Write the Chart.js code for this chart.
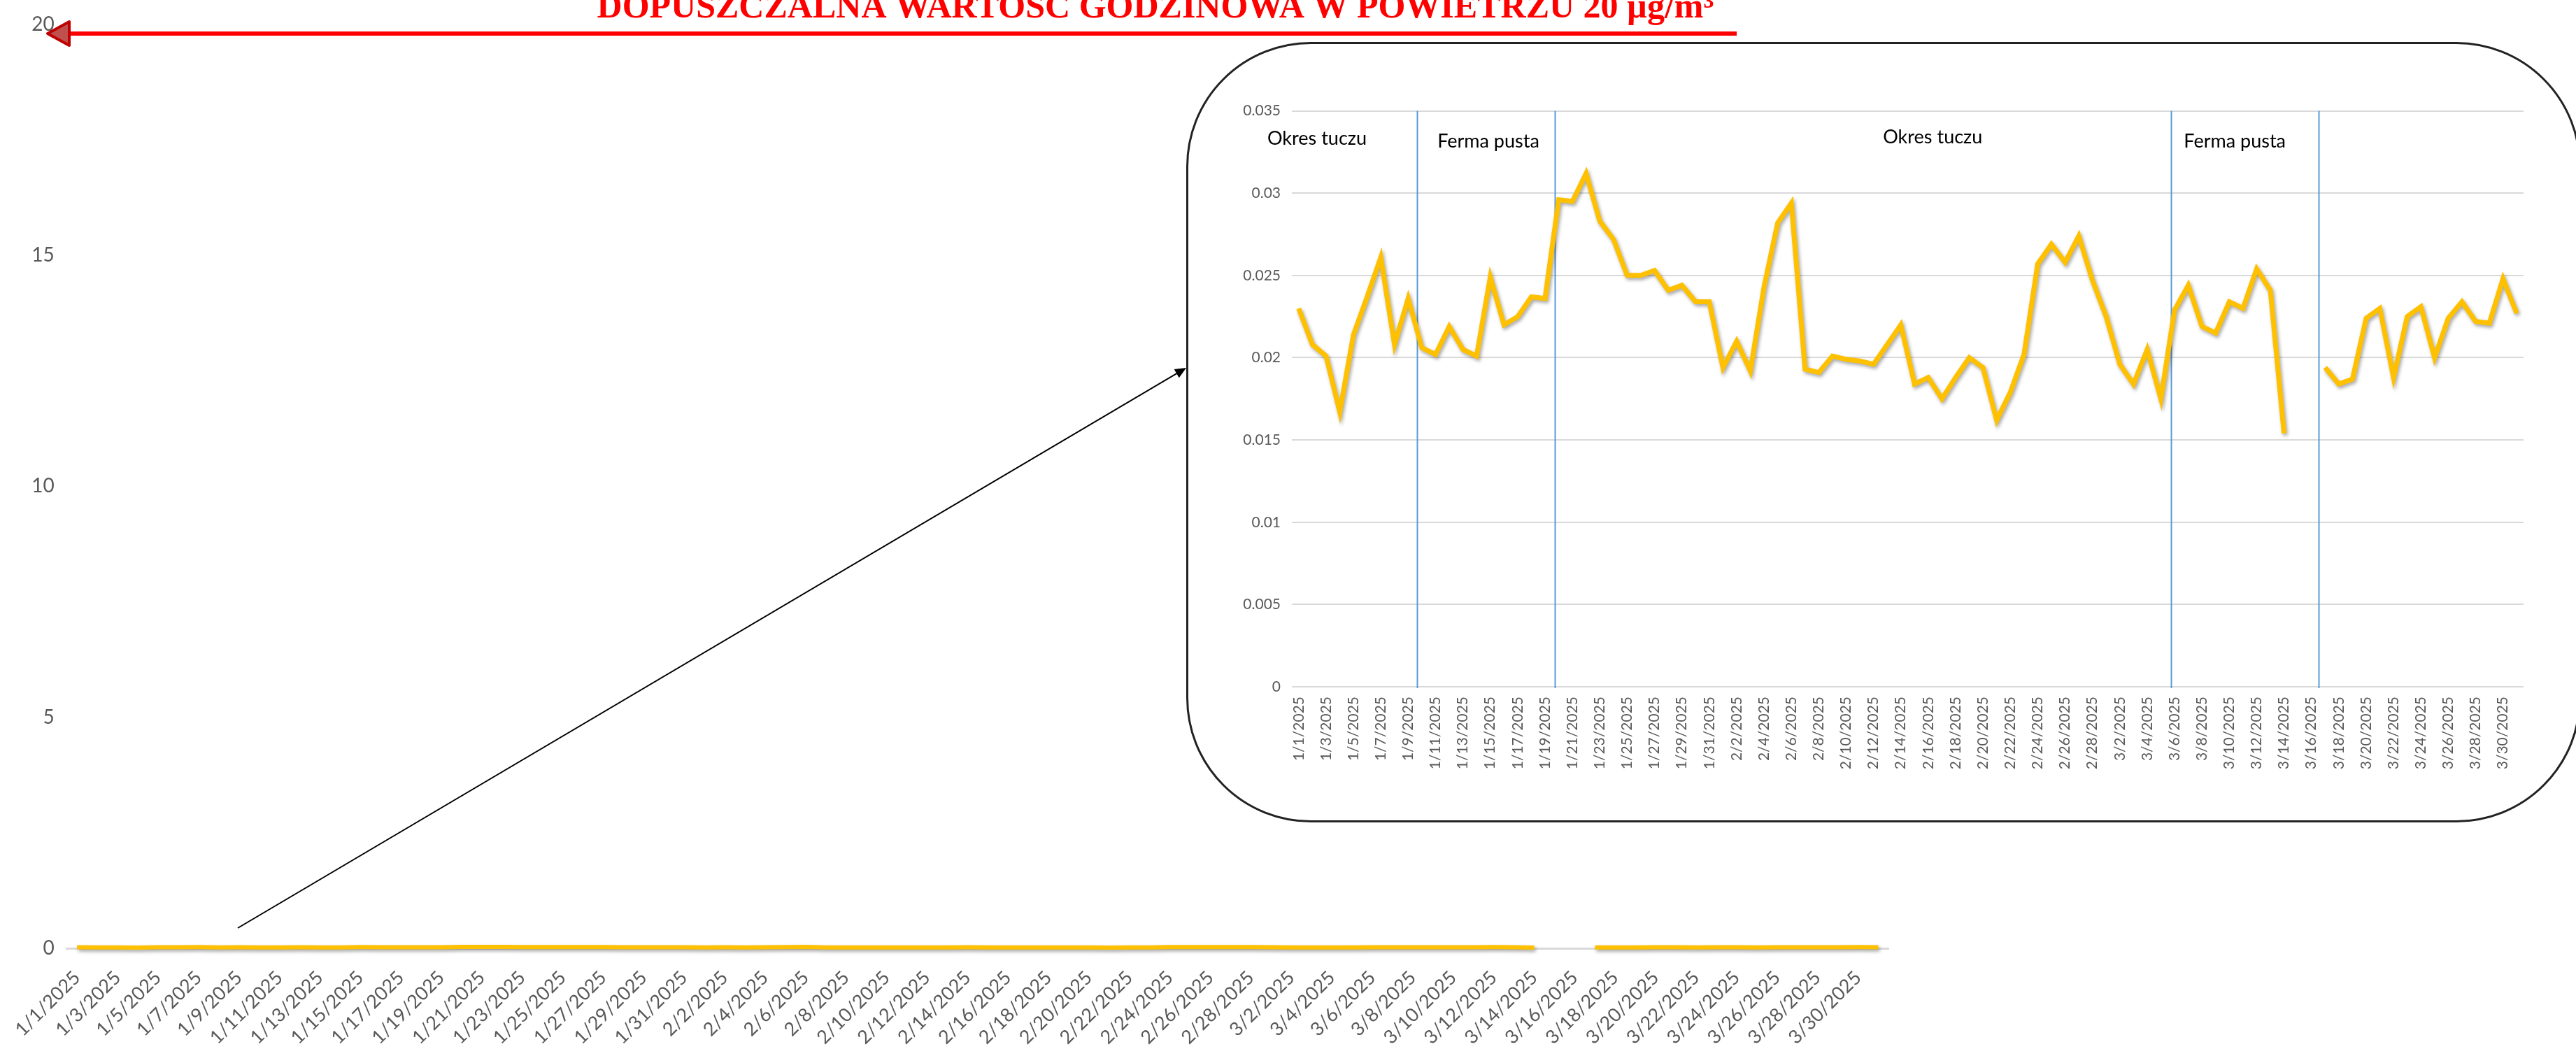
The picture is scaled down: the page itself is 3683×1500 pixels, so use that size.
<!DOCTYPE html>
<html>
<head>
<meta charset="utf-8">
<script src="https://cdn.jsdelivr.net/npm/chart.js@4.4.1/dist/chart.umd.min.js"></script>
<style>
	html, body { margin: 0; padding: 0; background: #fff; overflow: hidden; }
	#wrap { position: relative; width: 3683px; height: 1500px; }
	#mainChart { position: absolute; left: 0; top: 0; }
	#frame { position: absolute; left: 1696px; top: 60px; width: 1994px; height: 1116px;
		border: 3px solid #222; border-radius: 178px; box-sizing: border-box; }
	#insetChart { position: absolute; left: 1710px; top: 130px; }
</style>
</head>
<body>
<div id="wrap">
	<canvas id="mainChart" width="3683" height="1500"></canvas>
	<div id="frame"></div>
	<canvas id="insetChart" width="1930" height="1000"></canvas>
</div>
<script>
// days of the measurement period
const categories = [
	'1/1/2025', '1/2/2025', '1/3/2025', '1/4/2025', '1/5/2025', '1/6/2025', '1/7/2025', '1/8/2025', '1/9/2025', '1/10/2025',
	'1/11/2025', '1/12/2025', '1/13/2025', '1/14/2025', '1/15/2025', '1/16/2025', '1/17/2025', '1/18/2025', '1/19/2025', '1/20/2025',
	'1/21/2025', '1/22/2025', '1/23/2025', '1/24/2025', '1/25/2025', '1/26/2025', '1/27/2025', '1/28/2025', '1/29/2025', '1/30/2025',
	'1/31/2025', '2/1/2025', '2/2/2025', '2/3/2025', '2/4/2025', '2/5/2025', '2/6/2025', '2/7/2025', '2/8/2025', '2/9/2025',
	'2/10/2025', '2/11/2025', '2/12/2025', '2/13/2025', '2/14/2025', '2/15/2025', '2/16/2025', '2/17/2025', '2/18/2025', '2/19/2025',
	'2/20/2025', '2/21/2025', '2/22/2025', '2/23/2025', '2/24/2025', '2/25/2025', '2/26/2025', '2/27/2025', '2/28/2025', '3/1/2025',
	'3/2/2025', '3/3/2025', '3/4/2025', '3/5/2025', '3/6/2025', '3/7/2025', '3/8/2025', '3/9/2025', '3/10/2025', '3/11/2025',
	'3/12/2025', '3/13/2025', '3/14/2025', '3/15/2025', '3/16/2025', '3/17/2025', '3/18/2025', '3/19/2025', '3/20/2025', '3/21/2025',
	'3/22/2025', '3/23/2025', '3/24/2025', '3/25/2025', '3/26/2025', '3/27/2025', '3/28/2025', '3/29/2025', '3/30/2025', '3/31/2025'
];

// daily values (µg/m³)
const hourlyValues = [
	0.0230, 0.0208, 0.0201, 0.0167, 0.0214, 0.0237, 0.0261, 0.0208, 0.0236, 0.0206,
	0.0202, 0.0219, 0.0205, 0.0201, 0.0249, 0.0220, 0.0225, 0.0237, 0.0236, 0.0296,
	0.0295, 0.0312, 0.0283, 0.0272, 0.0250, 0.0250, 0.0253, 0.0241, 0.0244, 0.0234,
	0.0234, 0.0194, 0.0210, 0.0192, 0.0243, 0.0282, 0.0294, 0.0193, 0.0191, 0.0201,
	0.0199, 0.0198, 0.0196, 0.0208, 0.0220, 0.0184, 0.0188, 0.0175, 0.0188, 0.0200,
	0.0194, 0.0162, 0.0179, 0.0202, 0.0257, 0.0269, 0.0258, 0.0274, 0.0247, 0.0225,
	0.0196, 0.0184, 0.0205, 0.0175, 0.0229, 0.0244, 0.0219, 0.0215, 0.0234, 0.0230,
	0.0254, 0.0241, 0.0154, null, null, 0.0194, 0.0184, 0.0187, 0.0224, 0.0230,
	0.0188, 0.0225, 0.0231, 0.0200, 0.0224, 0.0234, 0.0222, 0.0221, 0.0248, 0.0227
];

// tick labels
const mainTicks = [0, 5, 10, 15, 20];
const insetTicks = [0, 0.005, 0.01, 0.015, 0.02, 0.025, 0.03, 0.035];

// periods marked in the inset
const periodNames = ['Okres tuczu', 'Ferma pusta', 'Okres tuczu', 'Ferma pusta'];
const limitTitle = 'DOPUSZCZALNA WARTOŚĆ GODZINOWA W POWIETRZU 20 µg/m³';

// where the period names and divider lines sit (category index along x)
const periodNameAt = [1.34, 13.86, 46.33, 68.4];
const periodNameY = [0.0333, 0.03315, 0.0334, 0.03315];
const dividerAt = [8.67, 18.74, 63.73, 74.5];

const axisGrey = '#595959';
const lineColor = '#FFC000';

// soft shadow under the lines, like the spreadsheet
const lineShadow = {
	id: 'lineShadow',
	beforeDatasetsDraw(chart) {
		const ctx = chart.ctx;
		ctx.save();
		ctx.shadowColor = 'rgba(0, 0, 0, 0.35)';
		ctx.shadowBlur = 5;
		ctx.shadowOffsetX = 2;
		ctx.shadowOffsetY = 3;
	},
	afterDatasetsDraw(chart) {
		chart.ctx.restore();
	}
};

// title, red limit line and the pointer arrow to the inset
const mainDecor = {
	id: 'mainDecor',
	afterDraw(chart) {
		const ctx = chart.ctx;
		const y = chart.scales.y;
		ctx.save();

		// title
		let size = 50;
		ctx.font = 'bold ' + size + 'px "Liberation Serif"';
		size = size * 1597 / ctx.measureText(limitTitle).width;
		ctx.font = 'bold ' + size + 'px "Liberation Serif"';
		ctx.fillStyle = '#FF0000';
		ctx.textAlign = 'center';
		ctx.textBaseline = 'alphabetic';
		ctx.fillText(limitTitle, 1652, 25);

		// limit line
		const ly = y.getPixelForValue(19.8);
		ctx.strokeStyle = '#FF0000';
		ctx.lineWidth = 6;
		ctx.beginPath();
		ctx.moveTo(98, ly);
		ctx.lineTo(2483, ly);
		ctx.stroke();

		ctx.beginPath();
		ctx.moveTo(68, ly);
		ctx.lineTo(99, ly - 17);
		ctx.lineTo(99, ly + 17);
		ctx.closePath();
		ctx.fillStyle = '#C0504D';
		ctx.fill();
		ctx.strokeStyle = '#C00000';
		ctx.lineWidth = 4;
		ctx.lineJoin = 'round';
		ctx.stroke();

		// arrow
		const x0 = 340, y0 = 1327, x1 = 1696, y1 = 526;
		const ang = Math.atan2(y1 - y0, x1 - x0);
		ctx.strokeStyle = '#000';
		ctx.lineWidth = 2;
		ctx.beginPath();
		ctx.moveTo(x0, y0);
		ctx.lineTo(x1 - 12 * Math.cos(ang), y1 - 12 * Math.sin(ang));
		ctx.stroke();
		ctx.fillStyle = '#000';
		ctx.beginPath();
		ctx.moveTo(x1, y1);
		ctx.lineTo(x1 - 16 * Math.cos(ang) + 7 * Math.sin(ang), y1 - 16 * Math.sin(ang) - 7 * Math.cos(ang));
		ctx.lineTo(x1 - 16 * Math.cos(ang) - 7 * Math.sin(ang), y1 - 16 * Math.sin(ang) + 7 * Math.cos(ang));
		ctx.closePath();
		ctx.fill();
		ctx.restore();
	}
};

// dividers and period names inside the inset (drawn before the line and its shadow)
const insetDecor = {
	id: 'insetDecor',
	beforeDatasetsDraw(chart) {
		const ctx = chart.ctx;
		const x = chart.scales.x;
		const y = chart.scales.y;
		ctx.save();
		ctx.strokeStyle = '#5B9BD5';
		ctx.lineWidth = 2;
		dividerAt.forEach(function (d) {
			const px = Math.round(x.getPixelForValue(d)) + 0.5;
			ctx.beginPath();
			ctx.moveTo(px, y.getPixelForValue(0.035));
			ctx.lineTo(px, y.getPixelForValue(0) + 2);
			ctx.stroke();
		});
		ctx.fillStyle = '#000';
		ctx.font = '27px Lato';
		ctx.textAlign = 'center';
		ctx.textBaseline = 'middle';
		periodNames.forEach(function (name, i) {
			ctx.fillText(name, x.getPixelForValue(periodNameAt[i]), y.getPixelForValue(periodNameY[i]));
		});
		ctx.restore();
	}
};

function everyOther(val, idx) {
	return idx % 2 === 0 ? categories[idx] : '';
}

new Chart(document.getElementById('mainChart'), {
	type: 'line',
	data: {
		labels: categories,
		datasets: [{
			data: hourlyValues,
			borderColor: lineColor,
			borderWidth: 6,
			pointRadius: 0,
			tension: 0,
			spanGaps: false,
			clip: false
		}]
	},
	options: {
		responsive: false,
		animation: false,
		devicePixelRatio: 1,
		layout: { padding: { top: 27, right: 983, left: 0, bottom: 0 } },
		plugins: { legend: { display: false }, tooltip: { enabled: false } },
		scales: {
			x: {
				offset: true,
				grid: { display: false, drawTicks: false },
				border: { display: true, color: '#D9D9D9', width: 3 },
				ticks: {
					autoSkip: false,
					minRotation: 45,
					maxRotation: 45,
					padding: 26,
					color: axisGrey,
					font: { family: 'Lato', size: 27 },
					callback: everyOther
				},
				afterFit(scale) { scale.height = 144; }
			},
			y: {
				min: 0,
				max: 20,
				grid: { display: false, drawTicks: false },
				border: { display: false },
				afterBuildTicks(scale) { scale.ticks = mainTicks.map(v => ({ value: v })); },
				ticks: {
					padding: 18,
					color: axisGrey,
					font: { family: 'Lato', size: 28 }
				},
				afterFit(scale) { scale.width = 87; }
			}
		}
	},
	plugins: [lineShadow, mainDecor]
});

new Chart(document.getElementById('insetChart'), {
	type: 'line',
	data: {
		labels: categories,
		datasets: [{
			data: hourlyValues,
			borderColor: lineColor,
			borderWidth: 7,
			pointRadius: 0,
			tension: 0,
			spanGaps: false,
			clip: false
		}]
	},
	options: {
		responsive: false,
		animation: false,
		devicePixelRatio: 1,
		layout: { padding: { top: 28, right: 32, left: 0, bottom: 0 } },
		plugins: { legend: { display: false }, tooltip: { enabled: false } },
		scales: {
			x: {
				offset: true,
				grid: { display: false, drawTicks: false },
				border: { display: false },
				ticks: {
					autoSkip: false,
					minRotation: 90,
					maxRotation: 90,
					padding: 14,
					color: axisGrey,
					font: { family: 'Lato', size: 21 },
					callback: everyOther
				},
				afterFit(scale) { scale.height = 148; }
			},
			y: {
				min: 0,
				max: 0.035,
				grid: { color: '#D9D9D9', lineWidth: 2, drawTicks: false },
				border: { display: false },
				afterBuildTicks(scale) { scale.ticks = insetTicks.map(v => ({ value: v })); },
				ticks: {
					padding: 16,
					color: axisGrey,
					font: { family: 'Lato', size: 21 },
					callback: v => String(+v.toFixed(3))
				},
				afterFit(scale) { scale.width = 137; }
			}
		}
	},
	plugins: [insetDecor, lineShadow]
});
</script>
</body>
</html>
